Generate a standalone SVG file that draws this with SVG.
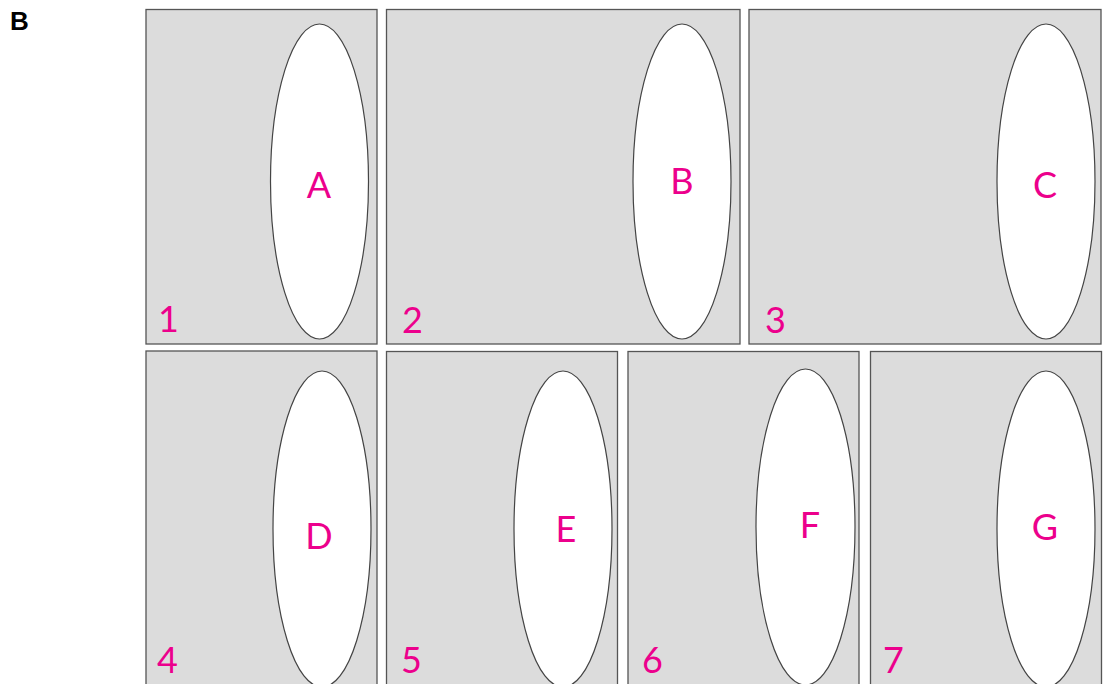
<svg xmlns="http://www.w3.org/2000/svg" width="1105" height="684" viewBox="0 0 1105 684">
<style>
.panel{fill:#dcdcdc;stroke:#555;stroke-width:1.3}
.ell{fill:#fff;stroke:#444;stroke-width:1.2}
.lbl{font-family:Lato,"Open Sans","Noto Sans",sans-serif;font-size:36px;fill:#ec008c;text-anchor:middle}
.num{font-family:Lato,"Open Sans","Noto Sans",sans-serif;font-size:36px;fill:#ec008c}
.title{font-family:"Liberation Sans",Arial,sans-serif;font-weight:bold;font-size:26px;fill:#000}
</style>
<rect width="1105" height="684" fill="#fff"/>
<text class="title" x="10" y="30">B</text>
<g id="panel1"><rect class="panel" x="146" y="9.5" width="231" height="334.5"/><ellipse class="ell" cx="319.5" cy="181.5" rx="49" ry="157.5"/><text class="lbl" x="319" y="198">A</text><text class="num" x="158" y="332">1</text></g>
<g id="panel2"><rect class="panel" x="386.5" y="9.5" width="353.5" height="334.5"/><ellipse class="ell" cx="682" cy="181.5" rx="49" ry="157.5"/><text class="lbl" x="682" y="194">B</text><text class="num" x="402" y="333">2</text></g>
<g id="panel3"><rect class="panel" x="749" y="9.5" width="352" height="334.5"/><ellipse class="ell" cx="1046" cy="181.5" rx="49" ry="157.5"/><text class="lbl" x="1045" y="198">C</text><text class="num" x="765" y="333">3</text></g>
<g id="panel4"><rect class="panel" x="146" y="351" width="231" height="345"/><ellipse class="ell" cx="322" cy="529" rx="49" ry="158"/><text class="lbl" x="319" y="549">D</text><text class="num" x="157" y="673">4</text></g>
<g id="panel5"><rect class="panel" x="386.5" y="351.5" width="231" height="345"/><ellipse class="ell" cx="563" cy="529" rx="49" ry="158"/><text class="lbl" x="566" y="542">E</text><text class="num" x="401" y="673">5</text></g>
<g id="panel6"><rect class="panel" x="628" y="351.5" width="231" height="345"/><ellipse class="ell" cx="805.5" cy="527" rx="49.5" ry="158"/><text class="lbl" x="810" y="538">F</text><text class="num" x="642" y="673">6</text></g>
<g id="panel7"><rect class="panel" x="870.5" y="351.5" width="231" height="345"/><ellipse class="ell" cx="1046" cy="529" rx="49" ry="158"/><text class="lbl" x="1045" y="540">G</text><text class="num" x="883" y="673">7</text></g>
<g id="connectors"/>
</svg>
